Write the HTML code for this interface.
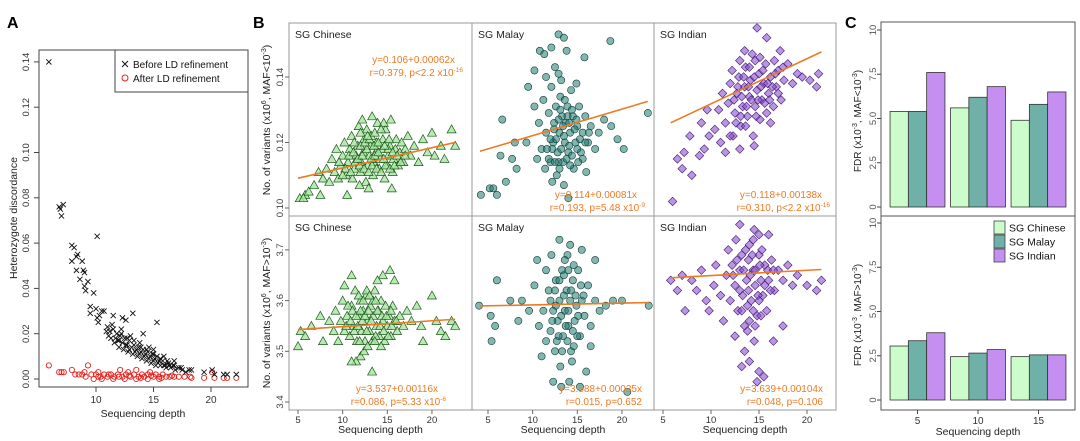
<!DOCTYPE html>
<html><head><meta charset="utf-8">
<style>
html,body{margin:0;padding:0;background:#fff;}
svg{display:block;font-family:"Liberation Sans",Arial,sans-serif;}
</style></head>
<body>
<svg id="fig" width="1080" height="441" viewBox="0 0 1080 441" xmlns="http://www.w3.org/2000/svg">
<g id="panelA"></g>
<g id="panelB"></g>
<g id="panelC"></g>
</svg>
<script>
// ---------- Panel A data ----------
const aBefore = [[5.9,0.14],[6.8,0.076],[7.0,0.072],[7.15,0.077],[6.9,0.075],[7.9,0.059],[8.1,0.058],[7.9,0.052],[8.3,0.054],[8.4,0.055],[8.6,0.044],[8.3,0.048],[8.8,0.052],[8.9,0.048],[9.0,0.047],[9.0,0.041],[9.1,0.039],[9.3,0.043],[9.8,0.038],[10.1,0.063],[9.5,0.032],[9.5,0.029],[10.0,0.031],[10.1,0.027],[10.2,0.025],[10.5,0.030],[10.7,0.030],[10.3,0.028],[11.5,0.028],[12.3,0.027],[12.6,0.026],[13.2,0.029],[14.1,0.020],[15.3,0.025],[16.8,0.008],[18.3,0.004],[19.4,0.003],[20.1,0.004],[20.3,0.002],[21.1,0.002],[21.4,0.002],[22.2,0.002],
[11.0,0.023],[11.2,0.021],[11.3,0.018],[11.5,0.022],[11.6,0.016],[11.8,0.020],[11.9,0.017],[12.0,0.014],[12.1,0.019],[12.3,0.016],[12.4,0.013],[12.5,0.018],[12.7,0.015],[12.8,0.012],[12.9,0.017],[13.1,0.014],[13.2,0.011],[13.3,0.015],[13.5,0.013],[13.6,0.010],[13.7,0.014],[13.9,0.012],[14.0,0.009],[14.1,0.013],[14.3,0.011],[14.4,0.008],[14.5,0.012],[14.7,0.010],[14.8,0.007],[14.9,0.011],[15.1,0.009],[15.2,0.006],[15.3,0.010],[15.5,0.008],[15.6,0.006],[15.8,0.008],[16.0,0.006],[16.1,0.005],[16.3,0.007],[16.5,0.005],[16.7,0.006],[16.9,0.004],[17.2,0.005],[17.5,0.004],[17.8,0.003],[18.1,0.004],[12.2,0.022],[13.0,0.019],[13.8,0.016],[14.6,0.014],[11.4,0.024],[10.9,0.021],[15.0,0.013],[15.9,0.010],
[11.1,0.019],[11.7,0.018],[12.0,0.017],[12.6,0.015],[12.9,0.013],[13.4,0.012],[13.8,0.011],[14.2,0.010],[14.6,0.009],[15.0,0.008],[15.4,0.007],[15.9,0.006],[16.4,0.006],[12.2,0.020],[12.7,0.018],[13.3,0.017],[13.9,0.014],[14.4,0.013],[15.0,0.011],[15.6,0.009],[16.2,0.008],[16.8,0.006],[17.4,0.005]];
const aAfter = [[5.9,0.006],[6.8,0.003],[7.0,0.003],[7.2,0.003],[7.9,0.004],[8.2,0.002],[8.5,0.002],[8.8,0.002],[9.0,0.003],[9.3,0.006],[9.1,0.001],[9.6,0.002],[10.0,0.002],[10.2,0.003],[10.4,0.001],[10.7,0.002],[11.0,0.001],[11.3,0.002],[11.6,0.001],[11.9,0.002],[12.1,0.004],[12.3,0.001],[12.6,0.002],[12.8,0.003],[13.0,0.001],[13.3,0.002],[13.5,0.004],[13.7,0.001],[14.0,0.002],[14.2,0.001],[14.5,0.002],[14.7,0.003],[15.0,0.001],[15.2,0.002],[15.5,0.001],[15.8,0.002],[16.1,0.001],[16.4,0.001],[16.8,0.001],[17.2,0.001],[17.7,0.001],[18.2,0.001],[18.3,0.0005],[19.4,0.0005],[20.1,0.003],[20.3,0.0005],[21.1,0.0005],[21.4,0.0005],[22.2,0.0005],[10.5,0.0],[11.5,0.0],[12.5,0.0],[13.5,0.0],[14.5,0.0],[15.5,0.0],[9.8,0.0],[10.2,0.001],[11.1,0.002],[12.0,0.001],[12.9,0.0015],[13.9,0.0005],[14.8,0.0015],[15.7,0.0005],[16.6,0.0015]];
const aYTicks = [0.00,0.02,0.04,0.06,0.08,0.10,0.12,0.14];
const aXTicks = [10,15,20];

// ---------- Panel B data ----------
const bXTicks = [5,10,15,20];
const bTopTicks = [0.10,0.12,0.14];
const bBotTicks = [3.4,3.5,3.6,3.7];
const chTop = [[5.2,0.103],[5.8,0.104],[6.2,0.105],[5.6,0.103],[7.5,0.104],[6.8,0.107],[7.3,0.111],[7.8,0.109],[8.2,0.112],[8.5,0.108],[8.8,0.115],[9.1,0.111],[9.3,0.118],[9.5,0.109],[9.8,0.113],[10.0,0.116],[10.2,0.12],[10.4,0.11],[10.6,0.114],[10.8,0.118],[11.0,0.122],[11.1,0.109],[11.3,0.112],[11.5,0.116],[11.7,0.119],[11.8,0.125],[12.0,0.111],[12.1,0.114],[12.3,0.117],[12.4,0.121],[12.6,0.108],[12.7,0.124],[12.8,0.113],[13.0,0.116],[13.1,0.119],[13.2,0.122],[13.4,0.11],[13.5,0.114],[13.7,0.117],[13.8,0.12],[13.9,0.126],[14.1,0.112],[14.2,0.115],[14.4,0.118],[14.5,0.121],[14.7,0.109],[14.8,0.124],[15.0,0.113],[15.1,0.116],[15.3,0.119],[15.4,0.127],[15.6,0.111],[15.7,0.115],[15.9,0.118],[16.0,0.121],[16.2,0.113],[16.4,0.117],[16.6,0.12],[16.8,0.114],[17.0,0.118],[17.3,0.122],[17.6,0.116],[18.0,0.119],[18.5,0.114],[19.0,0.121],[19.5,0.117],[20.0,0.123],[20.3,0.116],[21.0,0.119],[21.4,0.115],[22.2,0.124],[22.6,0.119],[12.2,0.127],[13.3,0.128],[14.6,0.126],[10.5,0.104],[12.9,0.106],[15.5,0.106],[11.9,0.107],
[10.3,0.112],[10.9,0.111],[11.4,0.114],[11.9,0.113],[12.4,0.112],[12.9,0.111],[13.3,0.113],[13.8,0.112],[14.3,0.111],[14.8,0.113],[15.3,0.112],[15.8,0.113],[10.7,0.116],[11.2,0.117],[11.7,0.115],[12.2,0.116],[12.7,0.118],[13.2,0.115],[13.6,0.116],[14.0,0.117],[14.6,0.115],[15.1,0.118],[15.6,0.117],[16.1,0.116],[11.3,0.12],[12.0,0.119],[12.5,0.12],[13.0,0.121],[13.5,0.119],[14.0,0.12],[14.7,0.119],[15.2,0.121],[12.0,0.123],[12.8,0.122],[13.6,0.123],[14.3,0.124],[10.0,0.11],[9.6,0.114],[16.5,0.114],[17.0,0.116]];
const maTop = [[4.2,0.104],[5.2,0.106],[5.6,0.106],[6.0,0.104],[7.0,0.108],[6.4,0.116],[7.7,0.115],[8.2,0.112],[8.0,0.12],[9.3,0.12],[6.6,0.127],[9.5,0.137],[10.2,0.142],[10.8,0.148],[11.3,0.147],[12.1,0.149],[12.9,0.153],[13.5,0.152],[13.8,0.148],[15.8,0.146],[18.7,0.151],[11.5,0.14],[12.5,0.143],[13.2,0.139],[10.2,0.131],[10.7,0.126],[11.0,0.118],[11.2,0.133],[11.5,0.123],[11.8,0.129],[12.0,0.114],[12.1,0.137],[12.3,0.12],[12.4,0.126],[12.6,0.131],[12.7,0.11],[12.8,0.117],[13.0,0.123],[13.1,0.134],[13.3,0.128],[13.4,0.114],[13.6,0.12],[13.7,0.126],[13.9,0.131],[14.0,0.117],[14.2,0.123],[14.3,0.136],[14.5,0.128],[14.6,0.112],[14.8,0.12],[15.0,0.125],[15.2,0.131],[15.4,0.117],[15.6,0.123],[15.9,0.128],[16.2,0.12],[16.5,0.125],[17.0,0.118],[17.4,0.123],[18.0,0.127],[18.8,0.125],[19.5,0.121],[20.2,0.118],[22.9,0.129],[12.2,0.108],[13.5,0.107],[14.0,0.103],[11.4,0.112],[10.5,0.115],[16.0,0.111],[12.9,0.141],[14.9,0.138],
[11.8,0.115],[12.2,0.118],[12.6,0.121],[12.9,0.114],[13.2,0.118],[13.5,0.122],[13.8,0.115],[14.1,0.119],[14.4,0.116],[14.7,0.124],[15.0,0.118],[15.3,0.121],[15.6,0.115],[12.4,0.124],[12.9,0.127],[13.4,0.125],[13.9,0.128],[14.4,0.13],[14.9,0.127],[13.1,0.13],[13.6,0.133],[14.1,0.126],[12.0,0.121],[11.6,0.118],[15.9,0.12],[16.3,0.123],[13.0,0.112],[14.2,0.113],[15.1,0.114],[12.5,0.114]];
const inTop = [[6.0,0.102],[6.5,0.115],[7.2,0.117],[7.0,0.112],[8.0,0.11],[8.8,0.116],[7.8,0.122],[9.0,0.126],[9.3,0.118],[9.8,0.122],[9.6,0.13],[10.4,0.124],[10.8,0.13],[11.2,0.135],[11.0,0.12],[11.5,0.126],[11.8,0.132],[12.0,0.138],[12.2,0.142],[12.3,0.122],[12.5,0.129],[12.7,0.135],[12.9,0.14],[13.0,0.145],[13.1,0.125],[13.3,0.131],[13.5,0.137],[13.6,0.143],[13.8,0.128],[14.0,0.134],[14.1,0.139],[14.3,0.147],[14.4,0.122],[14.6,0.131],[14.8,0.136],[15.0,0.141],[15.1,0.127],[15.3,0.133],[15.5,0.138],[15.7,0.144],[15.8,0.129],[16.0,0.135],[16.2,0.14],[16.5,0.131],[16.8,0.137],[17.0,0.142],[17.3,0.133],[17.6,0.139],[18.0,0.144],[18.5,0.138],[19.0,0.141],[19.5,0.14],[20.3,0.139],[21.0,0.137],[21.2,0.141],[14.8,0.155],[15.8,0.152],[13.5,0.148],[17.2,0.148],[12.0,0.122],[13.0,0.118],[14.5,0.119],[16.2,0.126],[11.5,0.117],
[12.4,0.133],[12.8,0.137],[13.2,0.134],[13.4,0.14],[13.7,0.131],[13.9,0.137],[14.2,0.133],[14.5,0.14],[14.7,0.128],[14.9,0.133],[15.2,0.137],[15.4,0.142],[15.6,0.132],[15.9,0.138],[16.1,0.133],[16.4,0.137],[16.7,0.141],[17.0,0.135],[14.0,0.143],[14.6,0.145],[15.1,0.146],[13.1,0.128],[12.6,0.126],[13.6,0.125],[16.6,0.145],[17.5,0.143]];
const chBot = [[5.0,3.51],[5.3,3.54],[5.8,3.53],[6.5,3.55],[7.5,3.57],[7.8,3.52],[8.5,3.56],[9.0,3.54],[9.2,3.58],[9.5,3.52],[9.8,3.56],[10.0,3.6],[10.2,3.54],[10.5,3.57],[10.8,3.53],[11.0,3.59],[11.2,3.55],[11.4,3.62],[11.6,3.52],[11.8,3.57],[12.0,3.6],[12.1,3.54],[12.3,3.58],[12.5,3.52],[12.6,3.61],[12.8,3.56],[13.0,3.54],[13.1,3.59],[13.3,3.52],[13.4,3.57],[13.6,3.62],[13.8,3.55],[14.0,3.58],[14.1,3.53],[14.3,3.6],[14.5,3.56],[14.7,3.52],[14.8,3.59],[15.0,3.55],[15.2,3.57],[15.4,3.53],[15.6,3.59],[15.8,3.56],[16.1,3.54],[16.4,3.57],[16.8,3.55],[17.2,3.58],[17.7,3.56],[18.3,3.59],[18.8,3.55],[20.0,3.61],[20.5,3.56],[21.0,3.54],[22.2,3.56],[22.6,3.55],[21.5,3.53],[19.0,3.52],[12.0,3.49],[11.5,3.48],[11.0,3.48],[12.4,3.5],[13.3,3.46],[11.0,3.65],[12.7,3.62],[14.5,3.65],[15.3,3.66],[15.8,3.64],[13.9,3.64],[10.2,3.63],
[10.4,3.55],[10.9,3.56],[11.3,3.54],[11.7,3.55],[12.2,3.56],[12.7,3.54],[13.2,3.56],[13.7,3.53],[14.2,3.55],[14.6,3.54],[15.1,3.53],[15.5,3.55],[16.0,3.56],[10.6,3.59],[11.1,3.58],[11.5,3.57],[12.0,3.58],[12.5,3.57],[12.9,3.58],[13.4,3.6],[13.9,3.58],[14.4,3.57],[14.9,3.57],[15.4,3.58],[11.9,3.52],[12.8,3.51],[13.6,3.52],[14.3,3.51],[11.8,3.61],[12.3,3.6],[13.0,3.61],[13.7,3.6]];
const maBot = [[4.0,3.59],[5.3,3.57],[5.8,3.55],[6.0,3.64],[5.4,3.52],[7.5,3.6],[8.4,3.56],[8.8,3.6],[9.6,3.58],[10.2,3.63],[10.5,3.68],[10.7,3.55],[11.2,3.58],[11.5,3.52],[11.5,3.66],[11.8,3.62],[12.0,3.54],[12.1,3.69],[12.3,3.58],[12.5,3.5],[12.6,3.64],[12.8,3.56],[13.0,3.6],[13.1,3.47],[13.3,3.66],[13.4,3.53],[13.6,3.58],[13.8,3.62],[13.9,3.69],[14.0,3.55],[14.2,3.6],[14.3,3.5],[14.5,3.64],[14.7,3.56],[14.9,3.59],[15.1,3.66],[15.3,3.53],[15.5,3.6],[15.8,3.57],[16.2,3.63],[16.5,3.55],[17.0,3.6],[17.5,3.58],[18.2,3.59],[19.0,3.6],[20.0,3.6],[23.0,3.59],[12.3,3.44],[13.2,3.43],[14.1,3.44],[15.3,3.43],[16.0,3.46],[13.0,3.72],[14.2,3.71],[15.5,3.7],[17.0,3.68],[20.6,3.42],[11.0,3.49],[16.5,3.51],
[12.2,3.56],[12.6,3.59],[12.9,3.53],[13.2,3.57],[13.5,3.61],[13.7,3.55],[14.0,3.58],[14.3,3.62],[14.5,3.54],[14.8,3.61],[15.1,3.57],[15.4,3.63],[12.5,3.62],[13.0,3.64],[13.5,3.65],[14.0,3.66],[14.6,3.67],[12.7,3.52],[13.3,3.5],[13.9,3.52],[14.6,3.51],[15.0,3.53],[12.0,3.6],[15.7,3.61],[13.6,3.68],[14.4,3.48]];
const inBot = [[5.8,3.64],[6.5,3.62],[7.0,3.65],[7.3,3.58],[8.0,3.64],[8.5,3.62],[9.0,3.66],[9.5,3.6],[9.8,3.58],[10.3,3.63],[10.5,3.67],[11.0,3.61],[11.3,3.56],[11.6,3.65],[11.8,3.7],[12.0,3.6],[12.2,3.67],[12.5,3.63],[12.6,3.72],[12.8,3.58],[13.0,3.66],[13.2,3.69],[13.3,3.61],[13.5,3.55],[13.7,3.64],[13.9,3.68],[14.0,3.71],[14.2,3.6],[14.4,3.66],[14.6,3.63],[14.8,3.57],[15.0,3.69],[15.2,3.64],[15.4,3.61],[15.6,3.67],[15.8,3.58],[16.0,3.64],[16.3,3.68],[16.6,3.62],[17.0,3.66],[17.5,3.64],[18.0,3.67],[18.5,3.63],[19.0,3.65],[20.0,3.63],[21.0,3.62],[21.5,3.64],[13.5,3.5],[14.0,3.48],[14.5,3.52],[15.0,3.46],[15.5,3.45],[13.2,3.47],[14.8,3.44],[13.8,3.54],[16.5,3.52],[17.5,3.55],[12.5,3.53],[13.0,3.75],[14.5,3.74],[16.0,3.73],
[12.3,3.65],[12.7,3.68],[13.0,3.62],[13.4,3.66],[13.6,3.7],[13.9,3.62],[14.1,3.65],[14.3,3.69],[14.6,3.66],[14.9,3.61],[15.1,3.67],[15.3,3.7],[15.6,3.63],[15.9,3.66],[16.2,3.62],[16.5,3.66],[13.2,3.58],[13.8,3.59],[14.4,3.58],[15.0,3.6],[14.0,3.56],[14.6,3.55],[15.2,3.57],[14.4,3.72],[15.0,3.73]];
// regression: [intercept, slope] and x-range
const fitCoefs = [[0.106,0.00062],[0.114,0.00081],[0.118,0.00138],[3.537,0.00116],[3.588,0.00035],[3.639,0.00104]];
const fitRanges = [[5,22.6],[4.1,22.9],[5.8,21.5],[5,22.6],[4.1,23],[5.8,21.5]];
const groupNames = ["SG Chinese","SG Malay","SG Indian"];

// ---------- Panel C data ----------
const cDepths = [5,10,15];
const cLowChinese = [5.4,5.6,4.9];
const cLowMalay = [5.4,6.2,5.8];
const cLowIndian = [7.6,6.8,6.5];
const cHighChinese = [3.05,2.45,2.45];
const cHighMalay = [3.35,2.65,2.55];
const cHighIndian = [3.8,2.85,2.55];
const cYTicks = [0,2.5,5.0,7.5,10];
const cYTickLabels = ["0","2.5","5.0","7.5","10"];

const NS = "http://www.w3.org/2000/svg";
function mk(parent, tag, attrs, text){
  const e = document.createElementNS(NS, tag);
  for (const k in attrs) e.setAttribute(k, attrs[k]);
  if (text !== undefined) e.textContent = text;
  parent.appendChild(e);
  return e;
}
const ORANGE = "#ec7a24";

// ================= PANEL A =================
(function(){
  const g = document.getElementById('panelA');
  const X = v => 96 + (v-10)*11.5;
  const Y = v => 379 - v/0.02*45.3;
  let t = mk(g,'text',{x:7,y:28,'font-size':16,'font-weight':'bold'},'A');
   
  const box = mk(g,'rect',{x:39,y:50,width:209,height:337,fill:'none',stroke:'#444','stroke-width':1});
   
  aYTicks.forEach(v=>{
    const y=Y(v);
    mk(g,'line',{x1:34,x2:39,y1:y,y2:y,stroke:'#444'});
    const l = mk(g,'text',{x:0,y:0,'font-size':9.5,'text-anchor':'middle',fill:'#333',transform:`translate(29,${y}) rotate(-90)`},v.toFixed(2));
     
  });
  aXTicks.forEach(v=>{
    const x=X(v);
    mk(g,'line',{x1:x,x2:x,y1:387,y2:392,stroke:'#444'});
    const l = mk(g,'text',{x:x,y:403,'font-size':10,'text-anchor':'middle',fill:'#333'},String(v));
     
  });
  let xt = mk(g,'text',{x:143,y:417,'font-size':10.5,'text-anchor':'middle',fill:'#222'},'Sequencing depth');
   
  let yt = mk(g,'text',{x:0,y:0,'font-size':10.5,'text-anchor':'middle',fill:'#222',transform:'translate(17,218) rotate(-90)'},'Heterozygote discordance');
   
  aAfter.forEach(p=>{
    const c = mk(g,'circle',{cx:X(p[0]),cy:Y(p[1]),r:2.6,fill:'none',stroke:'#e8211c','stroke-width':0.9});
     
  });
  aBefore.forEach(p=>{
    const x=X(p[0]), y=Y(p[1]), s=2.6;
    const c = mk(g,'path',{d:`M${x-s},${y-s}L${x+s},${y+s}M${x-s},${y+s}L${x+s},${y-s}`,stroke:'#111','stroke-width':0.9,fill:'none'});
     
  });
  const lg = mk(g,'g',{});
   
  mk(lg,'rect',{x:115,y:50,width:133,height:42,fill:'#fff',stroke:'#444'});
  mk(lg,'path',{d:'M122,61L128,67M122,67L128,61',stroke:'#111','stroke-width':1});
  const e1 = mk(lg,'text',{x:133,y:68,'font-size':10,fill:'#111'},'Before LD refinement');
   
  mk(lg,'circle',{cx:125,cy:78,r:3,fill:'none',stroke:'#e8211c'});
  const e2 = mk(lg,'text',{x:133,y:82,'font-size':10,fill:'#111'},'After LD refinement');
   
})();

// ================= PANEL B =================
(function(){
  const g = document.getElementById('panelB');
  let t = mk(g,'text',{x:253,y:28,'font-size':16,'font-weight':'bold'},'B');
   
  const cols = [[289,472],[472,654],[654,836]];
  const xs = [[298,8.93],[488,8.93],[663,9.6]];
  const rows = [[23,216],[216,410]];
  const YT = v => 208 - (v-0.10)/0.02*65.5;
  const YB = v => 402 - (v-3.4)/0.1*50.7;
  const Ys = [YT,YB];
  const datasets = [[chTop,maTop,inTop],[chBot,maBot,inBot]];
  const fills = ['#a6e6a0','#1f7a70','#8a4fd0'];
  const strokes = ['#1f5a1c','#0f3d38','#3d1870'];
  const markerNames = ['chinese-point','malay-point','indian-point'];
  const clipDefs = mk(g,'defs',{});
  for (let r=0;r<2;r++){
    for (let c=0;c<3;c++){
      const id='clip'+r+c;
      const cp = mk(clipDefs,'clipPath',{id:id});
      mk(cp,'rect',{x:cols[c][0],y:rows[r][0],width:cols[c][1]-cols[c][0],height:rows[r][1]-rows[r][0]});
      const X = v => xs[c][0] + (v-5)*xs[c][1];
      const Y = Ys[r];
      const pg = mk(g,'g',{'clip-path':`url(#${id})`});
      
      
      datasets[r][c].forEach(p=>{
        const x=X(p[0]), y=Y(p[1]);
        let m;
        if (c===0) m = mk(pg,'path',{d:`M${x},${y-4.5}L${x+4.5},${y+3.5}L${x-4.5},${y+3.5}Z`,fill:fills[0],'fill-opacity':0.8,stroke:strokes[0],'stroke-width':0.7});
        else if (c===1) m = mk(pg,'circle',{cx:x,cy:y,r:3.6,fill:fills[1],'fill-opacity':0.55,stroke:strokes[1],'stroke-width':0.6});
        else m = mk(pg,'path',{d:`M${x},${y-4.3}L${x+4.3},${y}L${x},${y+4.3}L${x-4.3},${y}Z`,fill:fills[2],'fill-opacity':0.6,stroke:strokes[2],'stroke-width':0.6});
        
        
      });
      const k = r*3+c;
      const a = fitCoefs[k][0], b = fitCoefs[k][1];
      const x0 = fitRanges[k][0], x1 = fitRanges[k][1];
      const ln = mk(pg,'line',{x1:X(x0),y1:Y(a+b*x0),x2:X(x1),y2:Y(a+b*x1),stroke:ORANGE,'stroke-width':1.6});
       
      const tt = mk(g,'text',{x:cols[c][0]+6,y:rows[r][0]+15,'font-size':10.5,fill:'#222'},groupNames[c]);
       
    }
  }
  const fr = mk(g,'rect',{x:289,y:23,width:547,height:387,fill:'none',stroke:'#999','stroke-width':1});
   
  mk(g,'line',{x1:472,x2:472,y1:23,y2:410,stroke:'#999'});
  mk(g,'line',{x1:654,x2:654,y1:23,y2:410,stroke:'#999'});
  mk(g,'line',{x1:289,x2:836,y1:216,y2:216,stroke:'#999'});
  bTopTicks.forEach(v=>{
    const y=YT(v);
    mk(g,'line',{x1:285,x2:289,y1:y,y2:y,stroke:'#666'});
    const l=mk(g,'text',{'font-size':9.5,'text-anchor':'middle',fill:'#444',transform:`translate(283,${y}) rotate(-90)`},v.toFixed(2));
     
  });
  bBotTicks.forEach(v=>{
    const y=YB(v);
    mk(g,'line',{x1:285,x2:289,y1:y,y2:y,stroke:'#666'});
    const l=mk(g,'text',{'font-size':9.5,'text-anchor':'middle',fill:'#444',transform:`translate(283,${y}) rotate(-90)`},v.toFixed(1));
     
  });
  for (let c=0;c<3;c++){
    bXTicks.forEach(v=>{
      const x = xs[c][0] + (v-5)*xs[c][1];
      mk(g,'line',{x1:x,x2:x,y1:410,y2:414,stroke:'#666'});
      const l=mk(g,'text',{x:x,y:423,'font-size':9.5,'text-anchor':'middle',fill:'#333'},String(v));
       
    });
    const xt = mk(g,'text',{x:(cols[c][0]+cols[c][1])/2,y:433,'font-size':10.5,'text-anchor':'middle',fill:'#222'},'Sequencing depth');
     
  }
  function ytitle(cy, sign){
    const tx = mk(g,'text',{'font-size':10.5,'text-anchor':'middle',fill:'#222',transform:`translate(270,${cy}) rotate(-90)`});
     
    mk(tx,'tspan',{},'No. of variants (x10');
    mk(tx,'tspan',{'font-size':7,dy:-4},'6');
    mk(tx,'tspan',{dy:4},', MAF'+sign+'10');
    mk(tx,'tspan',{'font-size':7,dy:-4},'-3');
    mk(tx,'tspan',{dy:4},')');
  }
  ytitle(120,'<'); ytitle(313,'>');
  const ann = [
    [455,63,'y=0.106+0.00062x','r=0.379, p<2.2 x10','-16'],
    [637,198,'y=0.114+0.00081x','r=0.193, p=5.48 x10','-9'],
    [822,198,'y=0.118+0.00138x','r=0.310, p<2.2 x10','-16'],
    [438,392,'y=3.537+0.00116x','r=0.086, p=5.33 x10','-6'],
    [642,392,'y=3.588+0.00035x','r=0.015, p=0.652',''],
    [823,392,'y=3.639+0.00104x','r=0.048, p=0.106','']
  ];
  ann.forEach(a=>{
    const l1 = mk(g,'text',{x:a[0],y:a[1],'font-size':10,'text-anchor':'end',fill:ORANGE},a[2]);
     
    const l2 = mk(g,'text',{x:a[0]+(a[4]?8:0),y:a[1]+13,'font-size':10,'text-anchor':'end',fill:ORANGE});
     
    mk(l2,'tspan',{},a[3]);
    if (a[4]) { mk(l2,'tspan',{'font-size':6.5,dy:-4},a[4]); }
  });
})();

// ================= PANEL C =================
(function(){
  const g = document.getElementById('panelC');
  let t = mk(g,'text',{x:845,y:28,'font-size':16,'font-weight':'bold'},'C');
   
  const centers = {5:917.5,10:978,15:1038.5};
  const bw = 18.3;
  const colors = ['#ccfccc','#6fb0a8','#c48ff0'];
  const names = ['chinese','malay','indian'];
  const panels = [
    {zero:207, top:22, bottom:216, series:[cLowChinese,cLowMalay,cLowIndian], tag:'low-maf', sign:'<'},
    {zero:400, top:216, bottom:410, series:[cHighChinese,cHighMalay,cHighIndian], tag:'high-maf', sign:'>'}
  ];
  const scale = 17.7;
  panels.forEach((p,pi)=>{
    const Y = v => p.zero - v*scale;
    cDepths.forEach((d,i)=>{
      p.series.forEach((s,si)=>{
        const x = centers[d] - 1.5*bw + si*bw;
        const b = mk(g,'rect',{x:x,y:Y(s[i]),width:bw,height:s[i]*scale,fill:colors[si],stroke:'#333','stroke-width':0.8});
        
        
      });
    });
    cYTicks.forEach((v,i)=>{
      const y=Y(v);
      mk(g,'line',{x1:877,x2:881,y1:y,y2:y,stroke:'#444'});
      const l=mk(g,'text',{'font-size':9.5,'text-anchor':'middle',fill:'#555',transform:`translate(876,${y}) rotate(-90)`},cYTickLabels[i]);
       
    });
    const tx = mk(g,'text',{'font-size':10,'text-anchor':'middle',fill:'#222',transform:`translate(861,${(p.top+p.bottom)/2+2}) rotate(-90)`});
     
    mk(tx,'tspan',{},'FDR (x10');
    mk(tx,'tspan',{'font-size':7,dy:-4},'-3');
    mk(tx,'tspan',{dy:4},', MAF'+p.sign+'10');
    mk(tx,'tspan',{'font-size':7,dy:-4},'-3');
    mk(tx,'tspan',{dy:4},')');
  });
  const fr = mk(g,'rect',{x:881,y:22,width:194,height:388,fill:'none',stroke:'#555','stroke-width':1});
   
  mk(g,'line',{x1:881,x2:1075,y1:216,y2:216,stroke:'#555','stroke-width':1});
  cDepths.forEach(d=>{
    const x=centers[d];
    mk(g,'line',{x1:x,x2:x,y1:410,y2:414,stroke:'#444'});
    const l=mk(g,'text',{x:x,y:424,'font-size':10,'text-anchor':'middle',fill:'#333'},String(d));
     
  });
  const xt=mk(g,'text',{x:978,y:435,'font-size':10.5,'text-anchor':'middle',fill:'#222'},'Sequencing depth');
   
  const lg = mk(g,'g',{});
   
  const labels = ['SG Chinese','SG Malay','SG Indian'];
  labels.forEach((lab,i)=>{
    const y = 221 + i*14;
    mk(lg,'rect',{x:994,y:y,width:11,height:13,fill:colors[i],stroke:'#444','stroke-width':0.8});
    const e = mk(lg,'text',{x:1009,y:y+10.5,'font-size':10.5,fill:'#111'},lab);
     
  });
})();
</script>
</body></html>
